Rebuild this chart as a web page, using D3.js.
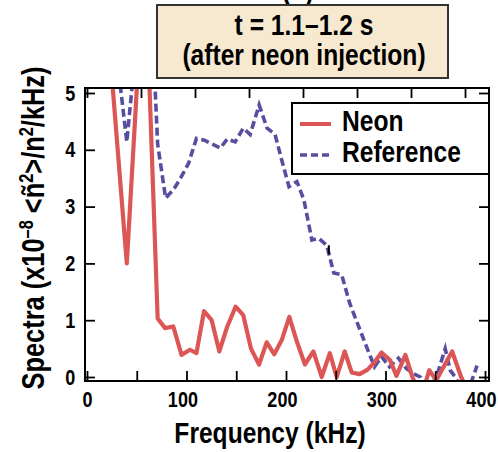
<!DOCTYPE html>
<html>
<head>
<meta charset="utf-8">
<script src="https://cdn.jsdelivr.net/npm/d3@7"></script>
<style>
  body { margin: 0; background: #fff; }
  text { font-family: "Liberation Sans", Arial, sans-serif; font-weight: bold; fill: #000; }
</style>
</head>
<body>
<script>
var width = 498;
var height = 452;
var squeeze = 0.82;   // the original uses a condensed bold face

// Neon spectrum (after neon injection), kHz and x1e-8 /kHz
var freqNeon = [24, 40, 58, 71, 78.5, 86.7, 95, 103.5, 110, 117.6, 125.3, 133, 141, 149.4, 157, 164.8,
                172.9, 180.6, 188.2, 195.7, 203.3, 211, 219, 227.5, 235.9, 244, 251, 259, 266, 274,
                282, 289, 296, 304.5, 311, 320, 327, 336, 344, 351, 359, 367, 376, 384];
var valNeon = [5.5, 2.0, 7.5, 1.03, 0.86, 0.89, 0.39, 0.48, 0.42, 1.16, 1.0, 0.45, 0.89, 1.24, 1.09, 0.5,
               0.22, 0.61, 0.4, 0.65, 1.06, 0.62, 0.22, 0.45, 0.0, 0.42, 0.0, 0.45, 0.08, 0.05,
               0.13, 0.26, 0.43, 0.3, 0.02, 0.39, 0.0, -0.35, 0.12, -0.06, 0.2, 0.45, 0.0, -0.3];

// Reference spectrum
var freqRef = [32, 40, 48, 56, 64, 71, 79, 87, 94, 102, 110, 118, 126, 134, 141, 149, 157, 164, 173,
               181, 189, 196, 203, 211, 218, 226, 233, 241, 248, 256, 264, 273, 281, 289, 296, 304,
               313, 321, 328, 335, 343, 353, 360, 365, 370, 378, 386, 392];
var valRef = [5.35, 4.14, 5.6, 6.5, 6.8, 4.1, 3.15, 3.3, 3.5, 3.76, 4.2, 4.17, 4.1, 4.03, 4.19, 4.14, 4.38, 4.27, 4.79,
              4.38, 4.27, 3.8, 3.35, 3.44, 3.12, 2.41, 2.44, 2.32, 1.83, 1.8, 1.3, 0.89, 0.53, 0.18, 0.36, 0.18,
              0.33, 0.15, 0.06, 0.0, -0.3, 0.1, 0.5, 0.12, 0.0, -0.25, -0.1, 0.2];

var xTicks = [0, 50, 100, 150, 200, 250, 300, 350, 400];
var xLabels = [0, 100, 200, 300, 400];
var topTicks = [0, 50, 100, 150, 200, 250, 300, 350];
var yTicks = [0, 1, 2, 3, 4, 5];

var seriesNames = ["Neon", "Reference"];
var colors = ["#dc5656", "#584ea0"];

// frame of the plot
var fLeft = 85, fRight = 489, fTop = 88, fBottom = 381;

var x = d3.scaleLinear().domain([0, 400]).range([87, 485]);
// the top axis of the original is drawn with a slightly wider spacing
var xTop = d3.scaleLinear().domain([0, 400]).range([87, 519]);
var y = d3.scaleLinear().domain([0, 5]).range([377, 93]);

var svg = d3.select("body")
  .append("svg")
  .attr("width", width)
  .attr("height", height);

function label(px, py, size, str, anchor) {
  return svg.append("text")
    .attr("transform", "translate(" + px + "," + py + ") scale(" + squeeze + ",1)")
    .attr("text-anchor", anchor || "middle")
    .attr("font-size", size + "px")
    .text(str);
}

// partial panel letter cut off at top
label(298, 0, 30, "(b)");

// title box
svg.append("rect")
  .attr("x", 157).attr("y", 5)
  .attr("width", 291).attr("height", 73)
  .attr("fill", "#f6e9cf")
  .attr("stroke", "#333")
  .attr("stroke-width", 2);

label(304, 35, 30, "t = 1.1\u20131.2 s");
label(304, 65, 30, "(after neon injection)");

// clip to frame
svg.append("clipPath").attr("id", "clip")
  .append("rect")
  .attr("x", fLeft).attr("y", fTop)
  .attr("width", fRight - fLeft).attr("height", fBottom - fTop);

var line = d3.line()
  .x(function(d) { return x(d[0]); })
  .y(function(d) { return y(d[1]); });

var plot = svg.append("g").attr("clip-path", "url(#clip)");

plot.append("path")
  .datum(d3.zip(freqRef, valRef))
  .attr("d", line)
  .attr("fill", "none")
  .attr("stroke", colors[1])
  .attr("stroke-width", 3.6)
  .attr("stroke-dasharray", "8,4");

plot.append("path")
  .datum(d3.zip(freqNeon, valNeon))
  .attr("d", line)
  .attr("fill", "none")
  .attr("stroke", colors[0])
  .attr("stroke-width", 4.2)
  .attr("stroke-linejoin", "round");

// small black mark on the reference curve
plot.append("line")
  .attr("x1", x(243)).attr("x2", x(243))
  .attr("y1", y(2.32)).attr("y2", y(2.16))
  .attr("stroke", "#000")
  .attr("stroke-width", 2);

// axes, ticks pointing inward
var gb = svg.append("g")
  .attr("transform", "translate(0," + fBottom + ")")
  .call(d3.axisBottom(x)
    .tickValues(xTicks)
    .tickSizeInner(-10).tickSizeOuter(0)
    .tickPadding(10)
    .tickFormat(function(d) { return xLabels.indexOf(d) >= 0 ? d : ""; }));
gb.selectAll("text").attr("dx", function(d) { return d ? -5 : 0; });

svg.append("g")
  .attr("transform", "translate(" + fLeft + ",0)")
  .call(d3.axisLeft(y)
    .tickValues(yTicks)
    .tickSizeInner(-10).tickSizeOuter(0)
    .tickPadding(12)
    .tickFormat(d3.format("d")));

svg.append("g")
  .attr("transform", "translate(" + fRight + ",0)")
  .call(d3.axisRight(y).tickValues(yTicks).tickSizeInner(-10).tickSizeOuter(0).tickFormat(""));

svg.append("g")
  .attr("transform", "translate(0," + fTop + ")")
  .call(d3.axisTop(xTop).tickValues(topTicks).tickSizeInner(-10).tickSizeOuter(0).tickFormat(""));

svg.selectAll(".domain").remove();
svg.selectAll(".tick line").attr("stroke", "#000").attr("stroke-width", 1.8);
svg.selectAll(".tick text")
  .attr("font-family", null)
  .attr("fill", "#000")
  .attr("transform", "scale(" + squeeze + ",1)")
  .style("font-size", "22px");

// frame
svg.append("rect")
  .attr("x", fLeft).attr("y", fTop)
  .attr("width", fRight - fLeft).attr("height", fBottom - fTop)
  .attr("fill", "none")
  .attr("stroke", "#000")
  .attr("stroke-width", 2);

// legend
var legend = svg.append("g");
legend.append("rect")
  .attr("x", 292).attr("y", 103)
  .attr("width", fRight - 292).attr("height", 71)
  .attr("fill", "#fff")
  .attr("stroke", "#000")
  .attr("stroke-width", 2);

legend.selectAll("line.key")
  .data(seriesNames)
  .enter()
  .append("line")
  .attr("class", "key")
  .attr("x1", 300).attr("x2", 331)
  .attr("y1", function(d, i) { return 124 + i * 31; })
  .attr("y2", function(d, i) { return 124 + i * 31; })
  .attr("stroke", function(d, i) { return colors[i]; })
  .attr("stroke-width", function(d, i) { return i ? 3.5 : 4; })
  .attr("stroke-dasharray", function(d, i) { return i ? "7,4" : null; });

seriesNames.forEach(function(d, i) {
  label(342, 131 + i * 31, 30, d, "start");
});

// axis titles
label(270, 443, 30, "Frequency (kHz)");

var yTitle = svg.append("text")
  .attr("transform", "translate(44,228) rotate(-90) scale(" + squeeze + ",1)")
  .attr("text-anchor", "middle")
  .attr("font-size", "31px");
yTitle.append("tspan").text("Spectra (x10");
yTitle.append("tspan").attr("dy", -11).attr("font-size", "20px").text("\u20138");
yTitle.append("tspan").attr("dy", 11).text(" <\u00f1");
yTitle.append("tspan").attr("dy", -11).attr("font-size", "20px").text("2");
yTitle.append("tspan").attr("dy", 11).text(">/n");
yTitle.append("tspan").attr("dy", -11).attr("font-size", "20px").text("2");
yTitle.append("tspan").attr("dy", 11).text("/kHz)");
</script>
</body>
</html>
